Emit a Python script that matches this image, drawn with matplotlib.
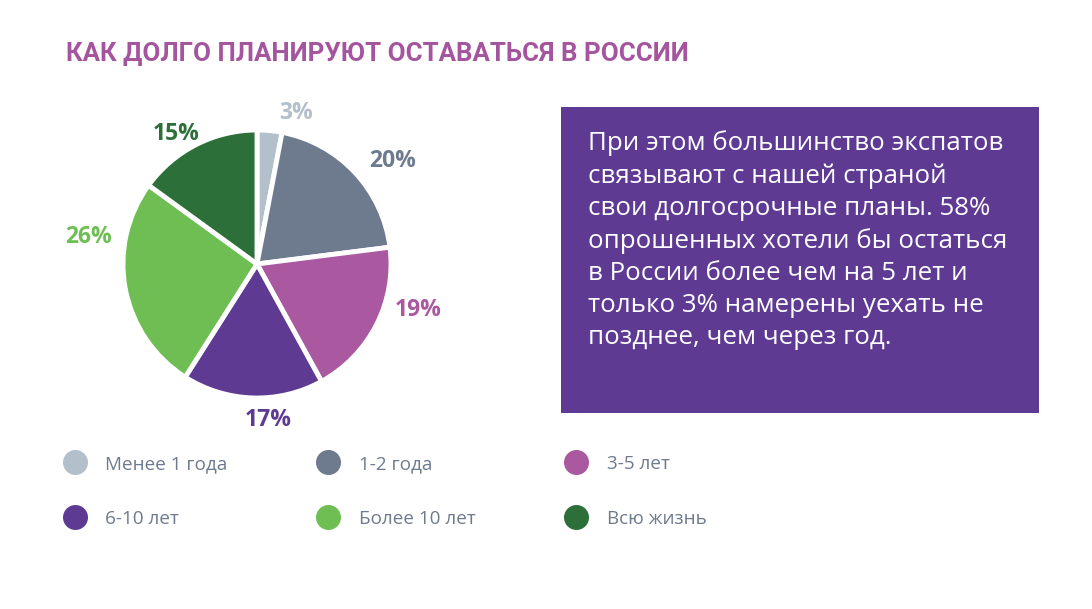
import numpy as np
import matplotlib.pyplot as plt
from matplotlib.lines import Line2D
from matplotlib.patches import Rectangle

categories = ["Менее 1 года", "1-2 года", "3-5 лет", "6-10 лет", "Более 10 лет", "Всю жизнь"]
shares = [3, 20, 19, 17, 26, 15]
colors = ["#B3C0CC", "#6E7A8E", "#AA58A0", "#5E3A93", "#6EBE54", "#2C6F39"]

title = "КАК ДОЛГО ПЛАНИРУЮТ ОСТАВАТЬСЯ В РОССИИ"
note = ("При этом большинство экспатов\n"
        "связывают с нашей страной\n"
        "свои долгосрочные планы. 58%\n"
        "опрошенных хотели бы остаться\n"
        "в России более чем на 5 лет и\n"
        "только 3% намерены уехать не\n"
        "позднее, чем через год.")

W, H = 1092, 609

# label placement tweaks (angle shift in degrees, radial distance)
label_shift = [-9, -6, 11, 6, -20, 5]
label_dist = [1.16, 1.27, 1.25, 1.17, 1.27, 1.14]


def main():
    fig = plt.figure(figsize=(W / 100, H / 100), dpi=100)
    fig.patch.set_facecolor("white")

    # pie: centre (257, 264), radius 134 px
    cx, cy, r = 257, 264, 134
    ax = fig.add_axes([(cx - r) / W, (H - cy - r) / H, 2 * r / W, 2 * r / H])
    wedges, texts = ax.pie(
        shares, colors=colors, startangle=90, counterclock=False,
        labels=[f"{v}%" for v in shares], labeldistance=1.2,
        wedgeprops=dict(edgecolor="white", linewidth=3.5),
        textprops=dict(fontsize=16.5, fontweight="bold", family="Open Sans"),
    )
    for w, t, c, da, d in zip(wedges, texts, colors, label_shift, label_dist):
        ang = np.deg2rad((w.theta1 + w.theta2) / 2 + da)
        t.set_position((d * np.cos(ang), d * np.sin(ang)))
        t.set_ha("center")
        t.set_va("center")
        t.set_color(c)
    ax.set_xlim(-1, 1)
    ax.set_ylim(-1, 1)
    ax.set_aspect("equal")

    fig.text(66 / W, 1 - 54 / H, title, fontsize=18.6, fontweight="bold",
             color="#A5559E", family="Roboto", va="center", ha="left")

    # text box
    fig.patches.append(Rectangle((561 / W, 1 - 413 / H), (1039 - 561) / W, (413 - 107) / H,
                                 transform=fig.transFigure, facecolor="#5E3A93",
                                 edgecolor="none"))
    fig.text(588 / W, 1 - 130 / H, note, fontsize=18.6, color="white",
             family="Open Sans", va="top", ha="left", linespacing=1.37)

    order = [0, 3, 1, 4, 2, 5]
    handles = [Line2D([], [], marker="o", linestyle="none", markersize=18,
                      markerfacecolor=colors[i], markeredgecolor="none") for i in order]
    fig.legend(handles, [categories[i] for i in order], ncol=3,
               loc="upper left", bbox_to_anchor=(39 / W, 1 - 438 / H),
               frameon=False, labelcolor="#6E7A8E",
               prop=dict(family="Open Sans", size=13.6),
               columnspacing=4.35, handletextpad=0.6, labelspacing=1.95)

    fig.savefig("out.png", dpi=100)


if __name__ == "__main__":
    main()
